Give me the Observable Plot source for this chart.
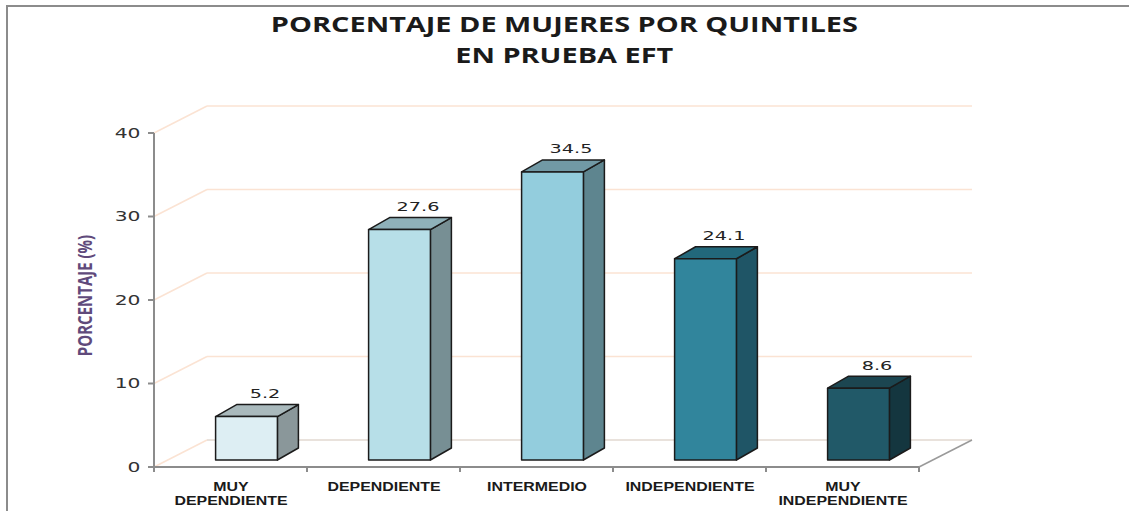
<!DOCTYPE html>
<html>
<head>
<meta charset="utf-8">
<script src="https://cdn.jsdelivr.net/npm/d3@7"></script>
<script src="https://cdn.jsdelivr.net/npm/@observablehq/plot@0.6"></script>
<style>
  body { margin: 0; background: #fff; }
  #wrap { position: relative; width: 1129px; height: 511px; overflow: hidden; background: #fff; }
  #border { position: absolute; left: 6px; top: 5px; width: 1140px; height: 520px;
            border-top: 2px solid #8c8c8c; border-left: 2px solid #8c8c8c; pointer-events: none; }
  #title { height: 80px; width: 1129px; box-sizing: border-box; padding-top: 9px;
           font-family: "Open Sans", sans-serif; font-weight: 700; font-size: 21px; line-height: 31px;
           color: #1a1a1a; text-align: center; }
  #title div { display: inline-block; white-space: nowrap; transform-origin: center; }
  #chart svg { display: block; }
</style>
</head>
<body>
<div id="wrap">
  <div id="title"><div id="t1">PORCENTAJE DE MUJERES POR QUINTILES</div><br><div id="t2">EN PRUEBA EFT</div></div>
  <div id="chart"></div>
  <div id="border"></div>
</div>
<script>
// ---- data ----
const categories = ["MUY\nDEPENDIENTE", "DEPENDIENTE", "INTERMEDIO", "INDEPENDIENTE", "MUY\nINDEPENDIENTE"];
const values = [5.2, 27.6, 34.5, 24.1, 8.6];
const yTicks = [0, 10, 20, 30, 40];
const yLabel = "PORCENTAJE (%)";

// ---- palette ----
const frontColors = ["#ddeef3", "#b7dfe8", "#93cddd", "#31859c", "#215968"];
const topColors   = ["#a9b9bc", "#8fb1b9", "#7199a5", "#22687b", "#1c4651"];
const sideColors  = ["#8a979a", "#778f94", "#5e858f", "#1f5566", "#14363f"];

const data = categories.map((c, i) => ({cat: c, value: values[i], i}));

// 3D geometry (pixels)
const WALL_DX = 53, WALL_DY = -27;
const BAR_DX = 21, BAR_DY = -12;
const BAR_SHIFT_X = 16, BAR_SHIFT_Y = -7, BAR_FRAC = 0.404;

function line(g, x1, y1, x2, y2, stroke, w) {
  g.append("line").attr("x1", x1).attr("y1", y1).attr("x2", x2).attr("y2", y2)
    .attr("stroke", stroke).attr("stroke-width", w);
}

function walls(index, scales) {
  const {x, y} = scales;
  const bw = x.bandwidth();
  const xl = x(categories[0]), xr = x(categories[categories.length - 1]) + bw;
  const g = d3.create("svg:g");
  for (const t of yTicks) {
    const yy = y(t);
    line(g, xl, yy, xl + WALL_DX, yy + WALL_DY, "#fbe3d3", 1.5);
    line(g, xl + WALL_DX, yy + WALL_DY, xr + WALL_DX, yy + WALL_DY, t === 0 ? "#e2d8d1" : "#fbe3d3", 1.5);
  }
  const y0 = y(0);
  line(g, xr, y0, xr + WALL_DX, y0 + WALL_DY, "#9a9a9a", 1.5);
  // front axes
  line(g, xl, y(0), xl, y(40), "#8c8c8c", 2);
  for (const t of yTicks) line(g, xl - 6, y(t), xl, y(t), "#8c8c8c", 2);
  line(g, xl, y0, xr, y0, "#8c8c8c", 2);
  const bounds = categories.map(c => x(c)).concat([xr]);
  for (const b of bounds) line(g, b, y0, b, y0 + 5, "#8c8c8c", 2);
  return g.node();
}

function bars3d(index, scales) {
  const {x, y} = scales;
  const bw = x.bandwidth();
  const half = bw * BAR_FRAC / 2;
  const g = d3.create("svg:g").attr("stroke", "#1b1b1b").attr("stroke-width", 1.5).attr("stroke-linejoin", "round");
  for (const d of data) {
    const cx = x(d.cat) + bw / 2 + BAR_SHIFT_X;
    const x0 = cx - half, x1 = cx + half;
    const yb = y(0) + BAR_SHIFT_Y, yt = y(d.value) + BAR_SHIFT_Y;
    const poly = (pts, fill) => g.append("polygon").attr("points", pts.map(p => p.join(",")).join(" ")).attr("fill", fill);
    poly([[x1, yt], [x1 + BAR_DX, yt + BAR_DY], [x1 + BAR_DX, yb + BAR_DY], [x1, yb]], sideColors[d.i]);
    poly([[x0, yt], [x0 + BAR_DX, yt + BAR_DY], [x1 + BAR_DX, yt + BAR_DY], [x1, yt]], topColors[d.i]);
    poly([[x0, yt], [x1, yt], [x1, yb], [x0, yb]], frontColors[d.i]);
  }
  return g.node();
}

const plot = Plot.plot({
  width: 1129,
  height: 431,
  marginLeft: 152,
  marginRight: 209,
  marginTop: 53,
  marginBottom: 44,
  x: {type: "band", domain: categories, padding: 0, axis: null},
  y: {domain: [0, 40], axis: null},
  style: {background: "transparent", overflow: "visible"},
  marks: [
    walls,
    bars3d,
    Plot.text(yTicks, {y: d => d, frameAnchor: "left", dx: -12, textAnchor: "end", text: d => String(d),
      fontSize: 14, fontFamily: "DejaVu Sans", fill: "#333"}),
    Plot.text(categories, {x: d => d, frameAnchor: "bottom", dy: 13, lineAnchor: "top", lineHeight: 1.07,
      text: d => d, fontSize: 13.5, fontWeight: "bold", fontFamily: "Liberation Sans, Arial, sans-serif",
      fill: "#1a1a1a"}),
    Plot.text(data, {x: "cat", y: "value", text: d => d.value.toFixed(1), dx: 34, dy: -26, lineAnchor: "bottom",
      fontSize: 13, fontFamily: "DejaVu Sans", fill: "#222"}),
    Plot.text([yLabel], {frameAnchor: "left", dx: -67, dy: -5, rotate: -90, textAnchor: "middle", lineAnchor: "middle",
      text: d => d, fontSize: 15, fontWeight: "bold", fontFamily: "Open Sans", fill: "#604a7b"})
  ]
});

document.getElementById("chart").appendChild(plot);

// horizontal stretch of text glyphs (the reference is horizontally stretched)
const tickSet = new Set(yTicks.map(String));
const valSet = new Set(values.map(v => v.toFixed(1)));
const catSet = new Set(categories.map(c => c.replace(/\n/g, "")));
function stretchFactor(txt) {
  if (tickSet.has(txt)) return 1.45;
  if (valSet.has(txt)) return 1.48;
  if (catSet.has(txt)) return 1.18;
  if (txt === yLabel) return 1.3;
  return 1;
}
plot.querySelectorAll("text").forEach(t => {
  const s = stretchFactor(t.textContent.trim());
  if (s === 1) return;
  const tr = t.getAttribute("transform") || "";
  const m = tr.match(/translate\(\s*([-\d.e]+)[\s,]+([-\d.e]+)\s*\)/);
  const px = m ? +m[1] : +(t.getAttribute("x") || 0);
  t.setAttribute("transform", `translate(${px},0) scale(${s},1) translate(${-px},0) ${tr}`);
});

// title stretch
const t1 = document.getElementById("t1"), t2 = document.getElementById("t2");
const s = 587 / t1.getBoundingClientRect().width;
t1.style.transform = `scaleX(${s})`;
t2.style.transform = `scaleX(${s})`;
</script>
</body>
</html>
